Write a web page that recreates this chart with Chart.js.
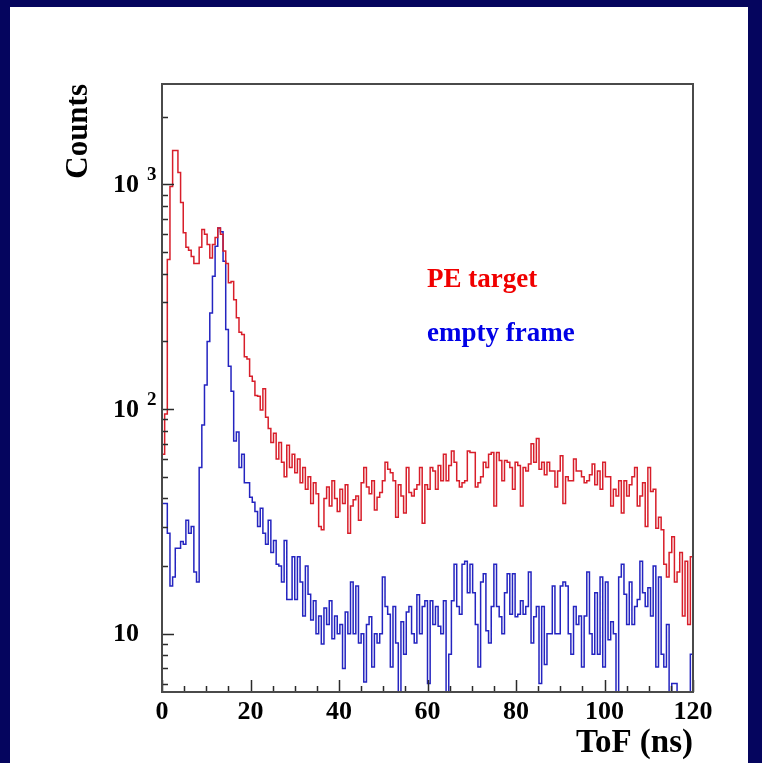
<!DOCTYPE html>
<html>
<head>
<meta charset="utf-8">
<title>ToF spectrum</title>
<script src="https://cdn.jsdelivr.net/npm/chart.js@4.4.1/dist/chart.umd.min.js"></script>
<style>
    html, body { margin: 0; padding: 0; }
    body { width: 762px; height: 763px; background: #05055e; position: relative; overflow: hidden; }
    #panel { position: absolute; left: 10px; top: 7px; width: 738px; height: 756px; background: #ffffff; }
    #tofChart { display: block; }
</style>
</head>
<body>
<div id="panel"><canvas id="tofChart" width="738" height="756"></canvas></div>
<script>
// histogram bins: 0 - 120 ns, 0.6 ns wide
const binWidth = 0.6;
const xMax = 120;

const peTarget = [
    63, 95, 463, 980, 1415, 1415, 1130, 830, 610, 525,
    510, 478, 445, 445, 525, 630, 600, 540, 470, 540,
    580, 640, 600, 505, 445, 365, 370, 307, 255, 220,
    215, 171, 167, 140, 133, 115, 114, 99, 123, 92,
    82, 71, 78, 60, 71, 58, 50, 69, 55, 63,
    52, 60, 47, 55, 44, 50, 38, 47, 42, 30,
    29, 40, 45, 37, 48, 40, 35, 44, 38, 46,
    28, 37, 39.5, 41, 32, 47, 55, 45, 42, 48,
    35.5, 40.5, 42.5, 48, 58, 54, 52, 48, 33, 46,
    41, 34.5, 55, 42.5, 41, 44, 46, 55, 31, 46,
    44, 55, 53, 44, 56, 48, 63, 48, 56, 65,
    58, 48, 45, 47, 48, 65, 64, 64, 45, 47,
    50, 58, 55, 63, 64, 37, 64, 59, 48, 59,
    58, 55, 44, 58, 56, 37, 55, 53, 57, 70,
    58, 74, 54, 58, 51, 58, 53, 53, 45, 53,
    62, 38, 50, 48, 48, 60, 53, 53, 50, 47,
    48, 51, 57, 46, 53, 44, 58, 50, 50, 37,
    44, 41, 48, 34.5, 48, 41, 46, 50, 55, 37,
    41, 47, 30, 55, 43, 44, 29.5, 33, 29, 20.4,
    17.9, 23, 27, 17, 18.8, 23, 12, 21, 11, 22
];

const emptyFrame = [
    38, 38, 28, 16.3, 17.9, 24, 24, 25.7, 25, 32,
    28, 30, 18.8, 17, 55, 85, 128, 200, 268, 390,
    530, 640, 615, 455, 226, 155, 120, 72, 79, 55,
    63, 47, 47, 40.5, 38.5, 35, 30, 36.2, 28, 25,
    32, 23, 26, 20.4, 20, 17, 26, 14.2, 14.2, 22,
    14.2, 22, 17, 12, 20, 15, 11.5, 14, 10, 12,
    9, 13, 11, 14, 9.5, 12, 10, 11, 7, 12.5,
    10, 17, 10, 16.3, 9.1, 10, 6.1, 11, 11.9, 7.1,
    10, 9.1, 10, 17.9, 13.2, 12.2, 7.1, 13.2, 9.1, 4,
    11.3, 8.1, 12.5, 13.2, 10, 9.1, 14.9, 10, 13.2, 14,
    6, 14, 11, 13.2, 10.8, 10, 14, 4, 8.1, 14,
    20.4, 13.2, 12.2, 20.4, 21, 15.2, 20.4, 15.2, 11, 7.1,
    17, 18.5, 10.3, 9.1, 13.2, 20.4, 13.2, 11.9, 10, 15.2,
    18.5, 12.2, 18.5, 11.9, 12.2, 14, 12.2, 13.2, 18.8, 9.1,
    11.9, 13.2, 6, 13.2, 7.3, 10, 10, 16.3, 10, 10,
    16.3, 17, 16.3, 10, 8.1, 13.2, 11, 12, 7.1, 12,
    18.8, 10, 8.1, 15.2, 8.1, 17.9, 7.1, 17, 9.4, 11.3,
    10, 4, 17.9, 20.4, 15, 11, 17, 11, 13.2, 14.2,
    21, 15.2, 13.2, 16, 12, 20, 7.1, 17.9, 8.1, 7.1,
    11, 4, 6, 6, 4, 4, 4, 4, 4, 8.1
];

const seriesNames = ['PE target', 'empty frame'];
const yTickValues = [10, 100, 1000];
const yTickExponents = ['', '2', '3'];

const serif = "'Liberation Serif', 'DejaVu Serif', serif";
const ctx = document.getElementById('tofChart').getContext('2d');

// left bin edges + closing point at the end of the range
function toSteps(counts) {
    const pts = counts.map((c, i) => ({ x: i * binWidth, y: c }));
    pts.push({ x: xMax, y: counts[counts.length - 1] });
    return pts;
}

// ROOT-like frame: inward ticks, 10^n labels, text labels for the two series
const rootFrame = {
    id: 'rootFrame',
    afterDatasetsDraw(chart) {
        const c = chart.ctx;
        const a = chart.chartArea;
        const x = chart.scales.x;
        const y = chart.scales.y;
        c.save();

        c.strokeStyle = '#2a2a2a';
        c.lineWidth = 1.5;
        c.beginPath();
        for (let v = 0; v <= xMax; v += 5) {
            const px = Math.round(x.getPixelForValue(v)) + 0.5;
            const len = v % 20 === 0 ? 12 : 6;
            c.moveTo(px, a.bottom);
            c.lineTo(px, a.bottom - len);
        }
        for (const d of [1, 10, 100, 1000]) {
            for (let m = 1; m < 10; m++) {
                const v = m * d;
                if (v < y.min || v > y.max) continue;
                const py = Math.round(y.getPixelForValue(v)) + 0.5;
                c.moveTo(a.left, py);
                c.lineTo(a.left + (m === 1 ? 12 : 6), py);
            }
        }
        c.stroke();

        c.strokeStyle = '#4a4a4a';
        c.lineWidth = 2;
        c.strokeRect(a.left, a.top, a.right - a.left, a.bottom - a.top);

        c.fillStyle = '#000';
        yTickValues.forEach((v, i) => {
            const py = y.getPixelForValue(v);
            c.font = 'bold 26px ' + serif;
            c.textAlign = 'right';
            c.textBaseline = 'middle';
            c.fillText('10', a.left - 23, py + 1);
            if (yTickExponents[i]) {
                c.font = 'bold 19px ' + serif;
                c.textAlign = 'left';
                c.textBaseline = 'alphabetic';
                c.fillText(yTickExponents[i], a.left - 15, py - 4);
            }
        });

        c.font = 'bold 27px ' + serif;
        c.textAlign = 'left';
        c.textBaseline = 'alphabetic';
        c.fillStyle = '#f00000';
        c.fillText(seriesNames[0], 417, 280);
        c.fillStyle = '#0000e6';
        c.fillText(seriesNames[1], 417, 334);
        c.restore();
    }
};

const tofChart = new Chart(ctx, {
    type: 'line',
    data: {
        datasets: [
            {
                label: seriesNames[0],
                data: toSteps(peTarget),
                borderColor: '#d81e2a',
                borderWidth: 1.5,
                stepped: true,
                pointRadius: 0,
                fill: false
            },
            {
                label: seriesNames[1],
                data: toSteps(emptyFrame),
                borderColor: '#2424c0',
                borderWidth: 1.5,
                stepped: true,
                pointRadius: 0,
                fill: false
            }
        ]
    },
    options: {
        responsive: false,
        devicePixelRatio: 1,
        animation: false,
        layout: {
            padding: { left: 0, top: 77, right: 55, bottom: 0 }
        },
        plugins: {
            legend: { display: false },
            tooltip: { enabled: false }
        },
        scales: {
            x: {
                type: 'linear',
                min: 0,
                max: xMax,
                grid: { display: false },
                border: { display: false },
                ticks: {
                    stepSize: 20,
                    padding: -3,
                    color: '#000',
                    maxRotation: 0,
                    font: { family: serif, size: 26, weight: 'bold' }
                },
                title: {
                    display: true,
                    text: 'ToF (ns)',
                    align: 'end',
                    color: '#000',
                    padding: { top: 0, bottom: 0 },
                    font: { family: serif, size: 33, weight: 'bold' }
                },
                afterFit: function (scale) { scale.height = 71; }
            },
            y: {
                type: 'logarithmic',
                min: 5.5,
                max: 2800,
                grid: { display: false },
                border: { display: false },
                ticks: { display: false },
                title: {
                    display: true,
                    text: 'Counts',
                    align: 'end',
                    color: '#000',
                    padding: { top: 50 },
                    font: { family: serif, size: 31, weight: 'bold' }
                },
                afterFit: function (scale) { scale.width = 152; }
            }
        }
    },
    plugins: [rootFrame]
});
</script>
</body>
</html>
